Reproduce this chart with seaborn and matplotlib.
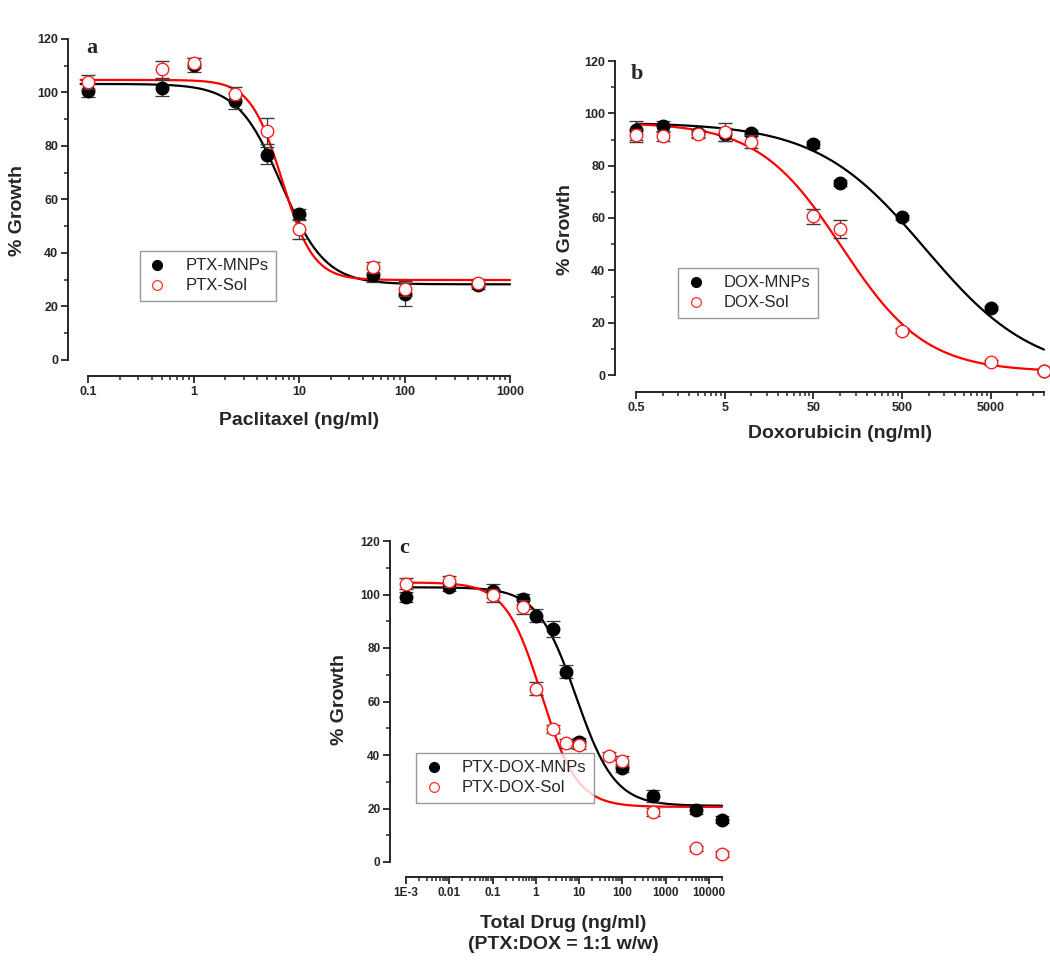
import numpy as np
import pandas as pd
import matplotlib
matplotlib.use("Agg")
import matplotlib.pyplot as plt
import matplotlib.ticker as mticker
from matplotlib.lines import Line2D
import seaborn as sns

# ---------------- data ----------------
# Panel a (Paclitaxel)
x_a = [0.1, 0.5, 1, 2.5, 5, 10, 50, 100, 500]
mnp_a = [100.7, 101.7, 110.3, 96.8, 76.6, 54.6, 31.6, 24.8, 28.0]
mnp_a_err = [2.5, 3.0, 2.5, 3.0, 3.2, 2.0, 2.5, 4.8, 1.5]
sol_a = [104.0, 108.6, 111.0, 99.6, 85.6, 48.8, 34.7, 26.4, 28.7]
sol_a_err = [2.7, 3.3, 2.0, 2.5, 5.0, 3.5, 2.0, 2.5, 1.5]
# 4PL fit parameters: top, bottom, IC50, hill
fit_a_mnp = [103.2, 28.3, 6.8, 2.1]
fit_a_sol = [104.7, 29.9, 6.9, 2.9]

# Panel b (Doxorubicin)
x_b = [0.5, 1, 2.5, 5, 10, 50, 100, 500, 5000, 20000]
mnp_b = [93.5, 95.0, 92.3, 92.0, 92.5, 88.1, 73.4, 60.3, 25.6, 1.5]
mnp_b_err = [3.5, 2.0, 1.5, 2.5, 1.0, 1.5, 1.2, 1.0, 0.8, 0.8]
sol_b = [91.6, 91.3, 92.0, 92.8, 89.1, 60.6, 55.8, 17.0, 4.8, 1.5]
sol_b_err = [2.5, 2.0, 1.5, 3.5, 2.5, 3.0, 3.5, 0.8, 1.0, 0.8]
fit_b_mnp = [96.5, 0.0, 916.0, 0.71]
fit_b_sol = [96.5, 1.2, 105.0, 0.92]

# Panel c (PTX:DOX 1:1)
x_c_mnp = [0.001, 0.01, 0.1, 0.5, 1, 2.5, 5, 10, 100, 500, 5000, 20000]
mnp_c = [99.1, 102.8, 101.3, 98.3, 92.1, 87.0, 71.2, 44.9, 35.2, 24.6, 19.5, 15.8]
mnp_c_err = [2.0, 1.5, 2.5, 2.0, 2.5, 3.0, 2.3, 1.5, 1.5, 2.3, 1.5, 1.3]
x_c_sol = [0.001, 0.01, 0.1, 0.5, 1, 2.5, 5, 10, 50, 100, 500, 5000, 20000]
sol_c = [104.0, 104.9, 99.7, 95.3, 64.8, 49.6, 44.3, 43.8, 39.5, 37.8, 18.7, 5.1, 3.0]
sol_c_err = [2.0, 2.0, 2.5, 2.5, 2.5, 1.5, 1.5, 1.5, 1.5, 1.8, 1.5, 1.0, 1.0]
fit_c_mnp = [102.7, 21.0, 8.5, 0.97]
fit_c_sol = [104.5, 20.6, 1.35, 1.05]

y_ticks = [0, 20, 40, 60, 80, 100, 120]

# ---------------- style ----------------
sns.set_style("ticks")
plt.rcParams['font.family'] = ['Liberation Sans', 'DejaVu Sans']
plt.rcParams['axes.linewidth'] = 1.4

fig = plt.figure(figsize=(10.5, 9.74), dpi=100)
PX = 72.0 / 100.0  # points per pixel

def four_pl(x, p):
    top, bottom, ic50, hill = p
    x = np.asarray(x, dtype=float)
    return bottom + (top - bottom) / (1.0 + (x / ic50) ** hill)

def draw_panel(rect, xs_m, ym, em, xs_s, ys, es, fm, fs, xrange_curve, xlim,
               labels, xlabel, letter, letter_pos, leg_pos, xlab_pos, ylab_pos,
               off_left, off_bottom, major_loc, minor_loc, formatter, ticksize=9):
    ax = fig.add_axes(rect)
    ax.set_xscale('log')
    # curves (4PL fits)
    xx = np.logspace(np.log10(xrange_curve[0]), np.log10(xrange_curve[1]), 400)
    dfm = pd.DataFrame({'x': xx, 'y': four_pl(xx, fm)})
    dfs = pd.DataFrame({'x': xx, 'y': four_pl(xx, fs)})
    sns.lineplot(data=dfm, x='x', y='y', ax=ax, color='black', lw=1.6, zorder=2)
    sns.lineplot(data=dfs, x='x', y='y', ax=ax, color='#ff0000', lw=1.6, zorder=2)
    for ln in ax.get_lines():
        ln.set_clip_on(False)
    # data points
    ax.errorbar(xs_m, ym, yerr=em, fmt='o', color='black', ms=9, mec='black',
                mfc='black', ecolor='#3a3a3a', elinewidth=0.9, capsize=5,
                capthick=0.9, zorder=3, clip_on=False)
    ax.errorbar(xs_s, ys, yerr=es, fmt='o', color='#ff0000', ms=9, mec='#ff2020',
                mfc='white', mew=1.0, ecolor='#3a3a3a', elinewidth=0.9, capsize=5,
                capthick=0.9, zorder=4, clip_on=False)
    ax.set_xlim(*xlim)
    ax.set_ylim(0, 120)
    ax.set_yticks(y_ticks)
    ax.yaxis.set_minor_locator(mticker.MultipleLocator(10))
    ax.xaxis.set_major_locator(major_loc)
    ax.xaxis.set_minor_locator(minor_loc)
    ax.xaxis.set_major_formatter(formatter)
    ax.xaxis.set_minor_formatter(mticker.NullFormatter())
    sns.despine(ax=ax)
    ax.spines['left'].set_position(('outward', off_left * PX))
    ax.spines['bottom'].set_position(('outward', off_bottom * PX))
    ax.tick_params(which='major', direction='out', length=5, width=1.3,
                   labelsize=ticksize, pad=2)
    ax.tick_params(which='minor', direction='out', length=3, width=1.1)
    for t in ax.get_xticklabels() + ax.get_yticklabels():
        t.set_fontweight('bold')
    ax.set_xlabel(xlabel, fontsize=14, fontweight='bold', linespacing=1.3)
    ax.xaxis.label.set_va('center')
    ax.xaxis.set_label_coords(*xlab_pos)
    ax.set_ylabel('% Growth', fontsize=14, fontweight='bold')
    ax.yaxis.label.set_va('center')
    ax.yaxis.set_label_coords(*ylab_pos)
    ax.text(letter_pos[0], letter_pos[1], letter, transform=ax.transAxes,
            fontsize=16, fontweight='bold', family='Liberation Serif',
            ha='left', va='center')
    handles = [Line2D([], [], ls='none', marker='o', ms=7, color='black'),
               Line2D([], [], ls='none', marker='o', ms=7, mfc='white',
                      mec='#ff3030', mew=0.9)]
    leg = ax.legend(handles, labels, loc='lower left', bbox_to_anchor=leg_pos,
                    fontsize=12, frameon=True, fancybox=False, handletextpad=1.1,
                    handlelength=1.2, borderpad=0.45, labelspacing=0.3,
                    borderaxespad=0)
    leg.get_frame().set_edgecolor('#808080')
    leg.get_frame().set_linewidth(1.0)
    return ax

# Panel a
W, H = 1050.0, 974.0
draw_panel([88 / W, 1 - 360 / H, 422 / W, 321 / H],
           x_a, mnp_a, mnp_a_err, x_a, sol_a, sol_a_err, fit_a_mnp, fit_a_sol,
           (0.085, 1000), (0.1, 1000), ['PTX-MNPs', 'PTX-Sol'],
           'Paclitaxel (ng/ml)', 'a', (-0.005, 0.973), (0.123, 0.184),
           (0.5, -0.187), (-0.166, 0.467), 20, 16,
           mticker.LogLocator(base=10, numticks=20),
           mticker.LogLocator(base=10, subs=np.arange(2, 10), numticks=20),
           mticker.FuncFormatter(lambda v, p: ('%g' % v)))

# Panel b
draw_panel([636 / W, 1 - 375 / H, 408 / W, 314 / H],
           x_b, mnp_b, mnp_b_err, x_b, sol_b, sol_b_err, fit_b_mnp, fit_b_sol,
           (0.5, 20000), (0.5, 20000), ['DOX-MNPs', 'DOX-Sol'],
           'Doxorubicin (ng/ml)', 'b', (-0.012, 0.958), (0.103, 0.182),
           (0.5, -0.185), (-0.172, 0.462), 21, 17,
           mticker.LogLocator(base=10, subs=[5.0], numticks=20),
           mticker.LogLocator(base=10, subs=[1, 1.5, 2, 2.5, 3, 3.5, 4, 4.5], numticks=20),
           mticker.FuncFormatter(lambda v, p: ('%g' % v)))

# Panel c
def fmt_c(v, p):
    if abs(v - 0.001) < 1e-9:
        return '1E-3'
    return '%g' % v

draw_panel([406 / W, 1 - 862 / H, 316 / W, 321 / H],
           x_c_mnp, mnp_c, mnp_c_err, x_c_sol, sol_c, sol_c_err, fit_c_mnp, fit_c_sol,
           (0.001, 20000), (0.001, 20000), ['PTX-DOX-MNPs', 'PTX-DOX-Sol'],
           'Total Drug (ng/ml)\n(PTX:DOX = 1:1 w/w)', 'c', (-0.022, 0.978), (0.032, 0.184),
           (0.497, -0.223), (-0.209, 0.505), 16, 15,
           mticker.LogLocator(base=10, numticks=20),
           mticker.LogLocator(base=10, subs=np.arange(2, 10), numticks=20),
           mticker.FuncFormatter(fmt_c), ticksize=8.5)

fig.savefig('out.png', dpi=100)
